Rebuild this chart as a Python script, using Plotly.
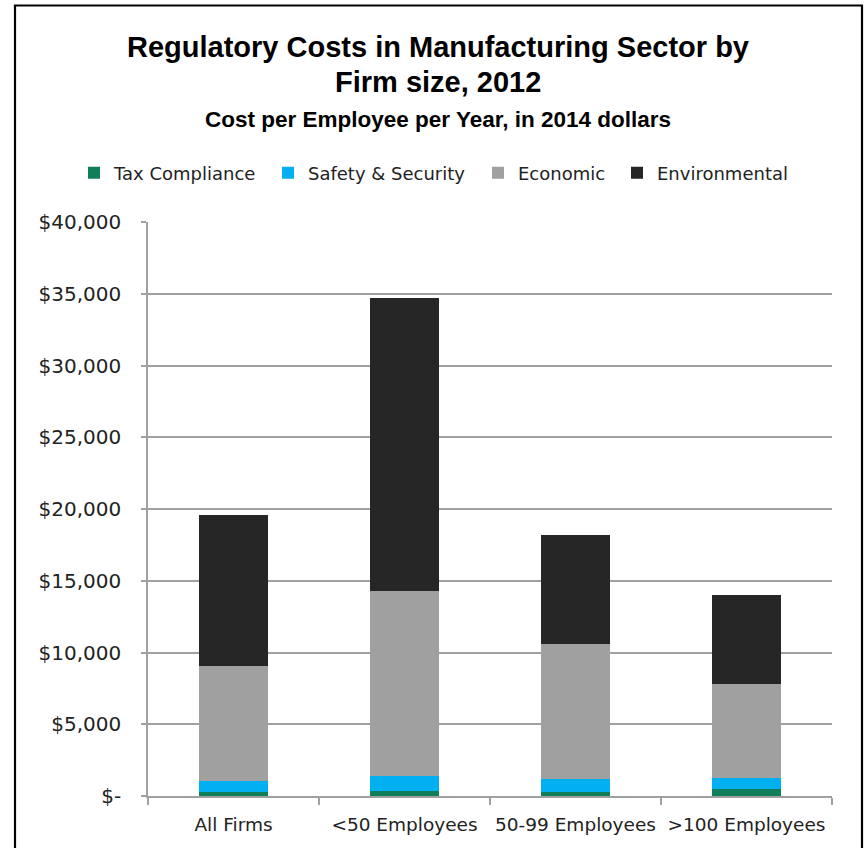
import plotly.graph_objects as go

categories = ["All Firms", "<50 Employees", "50-99 Employees", ">100 Employees"]
tax_compliance = [250, 350, 300, 500]
safety_security = [810, 1060, 860, 730]
economic = [8000, 12880, 9430, 6570]
environmental = [10500, 20380, 7600, 6200]

y_tickvals = [0, 5000, 10000, 15000, 20000, 25000, 30000, 35000, 40000]
y_ticktext = ["$-", "$5,000", "$10,000", "$15,000", "$20,000", "$25,000", "$30,000", "$35,000", "$40,000"]

series = [
    ("Tax Compliance", tax_compliance, "#0F7F5B"),
    ("Safety & Security", safety_security, "#00B0F0"),
    ("Economic", economic, "#A0A0A0"),
    ("Environmental", environmental, "#262626"),
]

W, H = 864, 848
L, R, T, B = 148, 32, 222, 52
pw, ph = W - L - R, H - T - B

def px(x):
    return (x - L) / pw

def py(y):
    return (H - B - y) / ph

TXT = "DejaVu Sans, Verdana, sans-serif"
legend_text_x = [113, 307, 517, 656]
legend_ids = ["legend", "legend2", "legend3", "legend4"]

fig = go.Figure()
for (name, vals, col), lid in zip(series, legend_ids):
    fig.add_trace(go.Bar(x=categories, y=vals, name=name, legend=lid,
                         marker=dict(color=col, line=dict(width=0))))

layout_legends = {}
for lid, tx in zip(legend_ids, legend_text_x):
    layout_legends[lid] = dict(orientation="h", x=px(tx - 39), xanchor="left", y=py(173), yanchor="middle",
                               font=dict(family=TXT, size=18, color="#222"),
                               itemclick=False, itemdoubleclick=False, bgcolor="rgba(0,0,0,0)", borderwidth=0)

fig.update_layout(
    width=W, height=H, autosize=False,
    margin=dict(l=L, r=R, t=T, b=B, pad=0),
    paper_bgcolor="white", plot_bgcolor="white",
    barmode="stack", bargap=0.6,
    showlegend=True,
    font=dict(family=TXT, color="#222"),
    **layout_legends,
)
fig.update_yaxes(range=[0, 40000], tickvals=y_tickvals, ticktext=y_ticktext,
                 showgrid=True, gridcolor="#A0A0A0", gridwidth=1.5,
                 showline=True, linecolor="#A0A0A0", linewidth=1.6,
                 ticks="outside", ticklen=5, tickcolor="#A0A0A0", tickwidth=1.5,
                 tickfont=dict(family=TXT, size=20, color="#222"), ticklabelstandoff=16,
                 zeroline=False, fixedrange=True)
fig.update_xaxes(showgrid=False, showline=True, linecolor="#A0A0A0", linewidth=2,
                 ticks="outside", tickson="boundaries", ticklen=7, tickcolor="#A0A0A0", tickwidth=1.6,
                 tickfont=dict(family=TXT, size=18.5, color="#222"), ticklabelstandoff=11,
                 fixedrange=True)

TF = "Liberation Sans, Arial, sans-serif"
fig.add_annotation(text="<b>Regulatory Costs in Manufacturing Sector by</b>", xref="paper", yref="paper",
                   x=px(438), y=py(47), xanchor="center", yanchor="middle", showarrow=False,
                   font=dict(family=TF, size=29, color="#000"))
fig.add_annotation(text="<b>Firm size, 2012</b>", xref="paper", yref="paper",
                   x=px(438), y=py(82), xanchor="center", yanchor="middle", showarrow=False,
                   font=dict(family=TF, size=29, color="#000"))
fig.add_annotation(text="<b>Cost per Employee per Year, in 2014 dollars</b>", xref="paper", yref="paper",
                   x=px(438), y=py(119), xanchor="center", yanchor="middle", showarrow=False,
                   font=dict(family=TF, size=22.5, color="#000"))

fig.add_shape(type="rect", xref="paper", yref="paper",
              x0=px(15), x1=px(862), y0=py(870), y1=py(5.5),
              line=dict(color="#000", width=2.2), fillcolor="rgba(0,0,0,0)", layer="above")

fig.write_html("out.html")
